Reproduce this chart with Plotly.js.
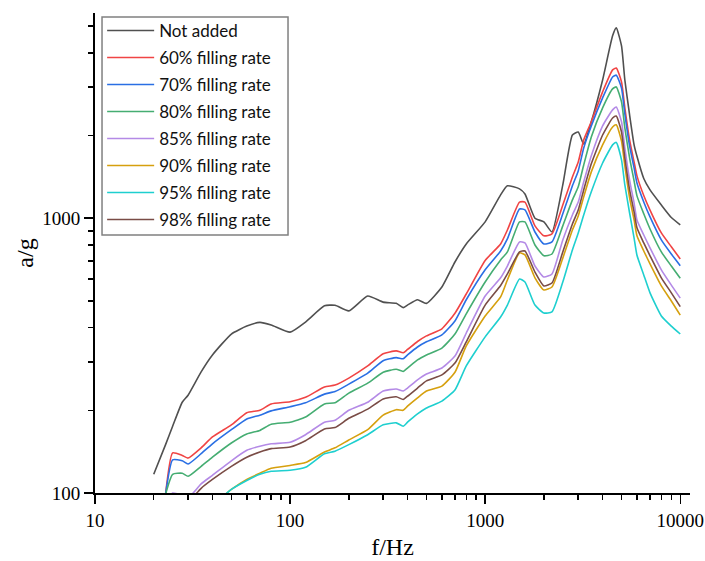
<!DOCTYPE html>
<html>
<head>
<meta charset="utf-8">
<script src="https://cdn.plot.ly/plotly-3.0.1.min.js"></script>
<style>
  html, body { margin: 0; padding: 0; background: #ffffff; }
  #chart { width: 705px; height: 561px; }
</style>
</head>
<body>
<div id="chart"></div>
<script>
// Frequency grid (Hz) shared by all response curves
const freq = [20, 23, 25, 28, 30, 35, 40, 50, 60, 70, 80, 100, 120, 150, 170, 200, 250, 300, 350, 380, 400, 450, 500, 600, 700, 800,
              1000, 1200, 1300, 1500, 1600, 1800, 2000, 2200, 2500, 2800, 3000, 3200, 3500, 4000, 4500, 4700, 5000, 5200, 5500, 5800,
              6000, 6500, 7000, 8000, 9000, 10000];

// Acceleration response a/g for each configuration
const notAdded = [117, 150, 175, 214, 227, 276, 318, 379, 405, 418, 409, 385, 419, 480, 482, 460, 521, 495, 490, 473, 483, 505, 490, 562, 693, 806,
                  970, 1216, 1312, 1279, 1225, 1000, 970, 891, 1322, 2009, 2060, 1862, 2244, 3186, 4614, 4930, 4238, 3186, 2377, 1849,
                  1680, 1395, 1268, 1117, 1006, 946];
const fill60 = [null, 99, 140, 137, 134, 146, 160, 177, 196, 200, 211, 215, 223, 243, 247, 262, 290, 321, 329, 324, 333, 356, 373, 396, 451, 530,
                702, 806, 906, 1145, 1145, 938, 863, 877, 1117, 1413, 1602, 1928, 2244, 2884, 3467, 3524, 3133, 2524, 1928, 1603,
                1426, 1210, 1071, 884, 787, 711];
const fill70 = [null, 99, 132, 131, 127.5, 139, 151, 170, 186, 192, 199, 206, 213, 229, 234, 249, 273, 303, 311, 308, 318, 340, 355, 376, 423, 505,
                649, 760, 841, 1080, 1072, 891, 806, 820, 1038, 1312, 1487, 1803, 2168, 2742, 3268, 3318, 2979, 2399, 1833, 1525,
                1343, 1146, 1011, 834, 741, 672];
const fill80 = [null, 99, 117, 118, 115, 125, 135, 152, 164, 169, 178, 181, 189, 211, 213, 231, 251, 275, 282, 277, 285, 305, 318, 337, 379, 449,
                586, 705, 754, 970, 970, 799, 730, 741, 938, 1166, 1301, 1563, 1977, 2523, 2958, 3006, 2651, 2133, 1659, 1367,
                1206, 1038, 914, 754, 670, 605];
const fill85 = [null, 90, 100, 98, 96, 108, 116, 131, 143, 148, 151, 153, 163, 181, 184, 200, 214, 235, 239, 235, 241, 258, 271, 285, 315, 382,
                521, 607, 670, 820, 813, 670, 611, 627, 834, 1028, 1145, 1355, 1687, 2168, 2479, 2540, 2244, 1803, 1377, 1136,
                986, 869, 780, 649, 571, 512];
const fill90 = [null, null, null, null, null, null, 90, 103, 112, 118, 123, 126, 129, 141, 146, 156, 170, 192, 201, 200, 207, 222, 235, 245, 275, 343,
                441, 517, 596, 748, 736, 607, 548, 562, 716, 906, 1019, 1196, 1475, 1849, 2149, 2188, 1910, 1550, 1186, 986,
                863, 760, 682, 567, 500, 444];
const fill95 = [null, null, null, null, null, null, 90, 103, 111, 117, 120, 121, 124, 139, 142, 150, 163, 177, 180, 175, 181, 194, 204, 216, 237, 290,
                370, 437, 483, 601, 586, 483, 452, 456, 586, 767, 884, 1028, 1248, 1589, 1849, 1888, 1630, 1322, 1045, 847,
                733, 622, 535, 441, 405, 379];
const fill98 = [null, null, null, null, 92, 104, 112, 125, 135, 141, 145, 147, 155, 171, 173, 187, 202, 220, 224, 219, 225, 241, 256, 269, 297, 355,
                483, 569, 627, 754, 760, 637, 567, 581, 754, 953, 1071, 1268, 1578, 2009, 2317, 2355, 2061, 1659, 1268, 1054,
                923, 813, 730, 607, 535, 477];

const seriesNames = ['Not added', '60% filling rate', '70% filling rate', '80% filling rate',
                     '85% filling rate', '90% filling rate', '95% filling rate', '98% filling rate'];
const seriesData = [notAdded, fill60, fill70, fill80, fill85, fill90, fill95, fill98];
const seriesColors = ['#505050', '#f04444', '#2a6fe4', '#45ad72', '#b48ae6', '#d6a00e', '#1ecfcf', '#7a4c46'];

// Axis ticks
const xMajor = [10, 100, 1000, 10000];
const xMajorText = ['10', '100', '1000', '10000'];
const yMajor = [100, 1000];
const yMajorText = ['100', '1000'];
const xMinor = [20, 30, 40, 50, 60, 70, 80, 90, 200, 300, 400, 500, 600, 700, 800, 900, 2000, 3000, 4000, 5000, 6000, 7000, 8000, 9000];
const yMinor = [200, 300, 400, 500, 600, 700, 800, 900, 2000, 3000, 4000, 5000];

const traces = seriesNames.map((name, i) => ({
  type: 'scatter',
  mode: 'lines',
  name: name,
  legendgroup: 'g' + i,
  x: freq,
  y: seriesData[i],
  connectgaps: false,
  line: { color: seriesColors[i], width: 1.6, shape: 'spline', smoothing: 0.5 }
}));

const serif = '"Liberation Serif", "Times New Roman", serif';

const axisCommon = {
  type: 'log',
  showline: true,
  linecolor: '#000000',
  linewidth: 2,
  showgrid: false,
  zeroline: false,
  mirror: false,
  ticks: 'outside',
  ticklen: 9,
  tickwidth: 1.5,
  tickcolor: '#000000',
  tickmode: 'array',
  tickfont: { family: serif, size: 19, color: '#000000' }
};

const layout = {
  width: 705,
  height: 561,
  paper_bgcolor: '#ffffff',
  plot_bgcolor: '#ffffff',
  margin: { l: 95, r: 15, t: 13, b: 68 },
  showlegend: true,
  xaxis: Object.assign({}, axisCommon, {
    range: [1, 4.05],
    tickvals: xMajor,
    ticktext: xMajorText,
    minor: { tickmode: 'array', tickvals: xMinor, ticks: 'outside', ticklen: 5, tickwidth: 1.5, tickcolor: '#000000', showgrid: false },
    title: { text: 'f/Hz', font: { family: serif, size: 24, color: '#000000' }, standoff: 8 }
  }),
  yaxis: Object.assign({}, axisCommon, {
    range: [2, 3.747],
    tickvals: yMajor,
    ticktext: yMajorText,
    minor: { tickmode: 'array', tickvals: yMinor, ticks: 'outside', ticklen: 5, tickwidth: 1.5, tickcolor: '#000000', showgrid: false },
    title: { text: 'a/g', font: { family: serif, size: 24, color: '#000000' }, standoff: 2 }
  }),
  // Legend frame drawn as a paper-anchored rectangle so the entries can sit snug inside it
  shapes: [{
    type: 'rect', xref: 'paper', yref: 'paper',
    x0: 0.0118, x1: 0.3244, y0: 0.5375, y1: 0.9917,
    line: { color: '#808080', width: 1.5 },
    fillcolor: '#ffffff',
    layer: 'below'
  }],
  legend: {
    x: 0.012,
    y: 1.0,
    xanchor: 'left',
    yanchor: 'top',
    bgcolor: 'rgba(0,0,0,0)',
    borderwidth: 0,
    traceorder: 'grouped',
    tracegroupgap: 1.9,
    itemwidth: 47,
    font: { family: 'Lato, "Noto Sans", sans-serif', size: 17, color: '#111111' }
  }
};

Plotly.newPlot('chart', traces, layout, { displayModeBar: false, staticPlot: true });
</script>
</body>
</html>
